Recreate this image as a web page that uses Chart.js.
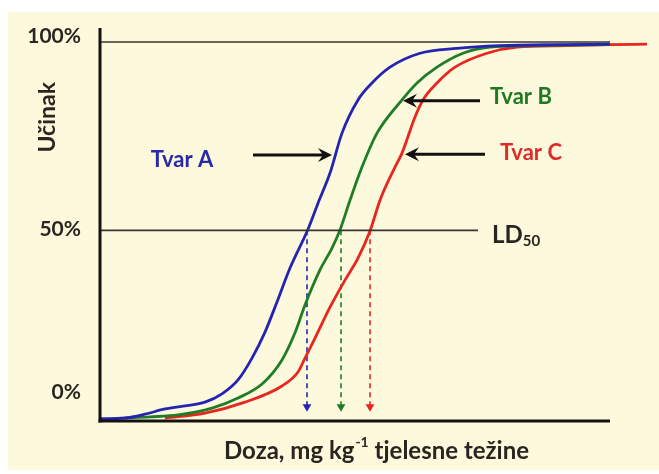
<!DOCTYPE html>
<html><head><meta charset="utf-8">
<script src="https://cdn.jsdelivr.net/npm/chart.js@4/dist/chart.umd.min.js"></script>
<style>
html,body{margin:0;padding:0;background:#fff;}
#wrap{position:relative;width:659px;height:474px;overflow:hidden;}
#bg{position:absolute;left:8px;top:12px;width:651px;height:458px;background:#fdf9dc;}
canvas{position:absolute;left:0;top:0;}
</style></head><body>
<div id="wrap"><div id="bg"></div><canvas id="c" width="659" height="474"></canvas></div>
<script>
// Dose (arbitrary units along the x axis) and effect (%) for each substance
const doseA = [0,5,9,13,17,21,24.4,27.6,30.4,33,35.4,38,41.6,43.6,46,48.4,51.6,54.4,58,64,71.4,80,92,102];
const effectA = [0,0.2,1.2,2.6,3.4,4.4,6.6,10.3,16.1,23.0,31.0,40.0,50.3,57.2,65.2,75.8,84.6,89.1,93.3,97.0,98.3,99.0,99.3,99.4];
const doseB = [5,10,15.6,22.4,27.6,32.4,36.4,39,41,44,46.4,48,50,52.4,55.4,60.4,63.4,67.4,72.6,78,86.6,102];
const effectB = [0.2,0.5,1.0,2.8,5.5,9.2,15.6,22.8,30.2,39.5,45.3,50.1,58.0,66.8,75.8,84.6,89.1,93.3,97.0,98.6,99.0,99.3];
const doseC = [13,21,29,36.4,39.6,41,43,46,49,51.6,54,56,59,60.4,63,64.6,67.4,71,77.4,83.4,93.4,102,109.4];
const effectC = [0.2,1.5,4.4,8.7,12.4,16.1,21.4,29.6,36.8,42.6,49.8,58.0,66.8,70.5,80.1,84.6,89.1,93.3,97.0,98.6,99.0,99.3,99.4];
const seriesNames = ['Tvar A','Tvar B','Tvar C'];
const ld50Dose = [41.4, 48.2, 54];      // LD50 dose of A, B, C
const yTickLabels = ['100%', '50%', '0%'];
const yTickLabelPos = [101.5, 50.3, 7];
const refLineEnds = [102, 75.6];        // 100% line end, 50% line end (dose)
const xAxisEnd = 102;
const labelA = {x: 16.4, y: 68.6};
const labelB = {x: 78, y: 85.5};
const labelC = {x: 80, y: 70.5};
const arrows = [ {from: [30.6, 70], to: [46.4, 70]}, {from: [76, 84.4], to: [60.6, 84.4]}, {from: [77, 70.2], to: [61, 70.2]} ];
const colors = ['#2424b4', '#1f7d27', '#e8251f'];
const textColors = ['#2a2aa6', '#1d7a22', '#e02a2a'];

function pts(xs, ys){ return xs.map((x,i)=>({x:x, y:ys[i]})); }

const datasets = [
  {data: pts(doseA, effectA), borderColor: colors[0]},
  {data: pts(doseB, effectB), borderColor: colors[1]},
  {data: pts(doseC, effectC), borderColor: colors[2]}
].map(d=>Object.assign(d,{borderWidth:2.8, pointRadius:0, cubicInterpolationMode:'monotone', fill:false, clip:false}));

// reference lines 100% and 50%
datasets.unshift({data:[{x:0,y:100},{x:refLineEnds[0],y:100}], borderColor:'#3a3530', borderWidth:1.6, pointRadius:0, clip:false});
datasets.unshift({data:[{x:0,y:50},{x:refLineEnds[1],y:50}], borderColor:'#3a3530', borderWidth:1.6, pointRadius:0, clip:false});
// dashed LD50 drops
ld50Dose.forEach((d,i)=>{
  datasets.push({data:[{x:d,y:50},{x:d,y:3.2}], borderColor:colors[i], borderWidth:1.6, borderDash:[5,4],
    pointRadius:[0,3.5], pointStyle:'triangle', rotation:180, pointBackgroundColor:colors[i], pointBorderColor:colors[i], clip:false});
});

const FONT = 'Lato, "Open Sans", sans-serif';

const deco = {
  id:'deco',
  afterDatasetsDraw(chart){
    const ctx = chart.ctx, xs = chart.scales.x, ys = chart.scales.y;
    const X = v=>xs.getPixelForValue(v), Y = v=>ys.getPixelForValue(v);
    ctx.save();
    // axes
    ctx.strokeStyle = '#15120f'; ctx.lineWidth = 3; ctx.lineCap='butt';
    ctx.beginPath(); ctx.moveTo(X(0), chart.chartArea.top); ctx.lineTo(X(0), chart.chartArea.bottom+1.5); ctx.stroke();
    ctx.beginPath(); ctx.moveTo(X(0)-1.5, chart.chartArea.bottom); ctx.lineTo(X(xAxisEnd), chart.chartArea.bottom); ctx.stroke();
    // y labels
    ctx.fillStyle = '#2a2520'; ctx.font = 'bold 21px '+FONT; ctx.textAlign='right'; ctx.textBaseline='middle';
    yTickLabels.forEach((t,i)=>ctx.fillText(t, X(0)-19, Y(yTickLabelPos[i])));
    // y title
    ctx.save(); ctx.translate(48, Y(80)); ctx.rotate(-Math.PI/2);
    ctx.textAlign='center'; ctx.font='bold 23px '+FONT; ctx.fillText('Učinak', 0, 0); ctx.restore();
    // x title with superscript
    ctx.textAlign='left'; ctx.textBaseline='alphabetic';
    const p1='Doza, mg kg', p2='-1', p3=' tjelesne težine';
    ctx.font='bold 24px '+FONT; const w1=ctx.measureText(p1).width, w3=ctx.measureText(p3).width;
    ctx.font='bold 14px '+FONT; const w2=ctx.measureText(p2).width;
    let sx = 376 - (w1+w2+w3)/2, by = 459;
    ctx.font='bold 24px '+FONT; ctx.fillText(p1, sx, by);
    ctx.font='bold 14px '+FONT; ctx.fillText(p2, sx+w1+1, by-12);
    ctx.font='bold 24px '+FONT; ctx.fillText(p3, sx+w1+w2+1, by);
    // LD50
    ctx.font='bold 24px '+FONT; ctx.textBaseline='middle';
    const lx = X(78.4), ly = Y(48.7);
    ctx.fillText('LD', lx, ly); const wl = ctx.measureText('LD').width;
    ctx.font='bold 15px '+FONT; ctx.fillText('50', lx+wl, ly+6);
    // series labels
    ctx.font='bold 22px '+FONT;
    ctx.textAlign='center'; ctx.fillStyle=textColors[0]; ctx.fillText(seriesNames[0], X(labelA.x), Y(labelA.y));
    ctx.textAlign='left'; ctx.fillStyle=textColors[1]; ctx.fillText(seriesNames[1], X(labelB.x), Y(labelB.y));
    ctx.fillStyle=textColors[2]; ctx.fillText(seriesNames[2], X(labelC.x), Y(labelC.y));
    // arrows
    ctx.strokeStyle='#111'; ctx.fillStyle='#111'; ctx.lineWidth=3;
    arrows.forEach(a=>{
      const x1=X(a.from[0]), y1=Y(a.from[1]), x2=X(a.to[0]), y2=Y(a.to[1]);
      const dir = Math.sign(x2-x1);
      ctx.beginPath(); ctx.moveTo(x1,y1); ctx.lineTo(x2-dir*6,y2); ctx.stroke();
      ctx.beginPath(); ctx.moveTo(x2,y2); ctx.lineTo(x2-dir*14,y2-7); ctx.lineTo(x2-dir*9,y2); ctx.lineTo(x2-dir*14,y2+7); ctx.closePath(); ctx.fill();
    });
    ctx.restore();
  }
};

new Chart(document.getElementById('c'), {
  type:'line',
  data:{datasets:datasets},
  options:{
    responsive:false, animation:false, devicePixelRatio:1,
    layout:{padding:{left:100, right:9, top:28, bottom:53}},
    plugins:{legend:{display:false}, tooltip:{enabled:false}},
    scales:{
      x:{type:'linear', min:0, max:110, display:false},
      y:{type:'linear', min:-0.6, max:103.7, display:false}
    }
  },
  plugins:[deco]
});
</script>
</body></html>
